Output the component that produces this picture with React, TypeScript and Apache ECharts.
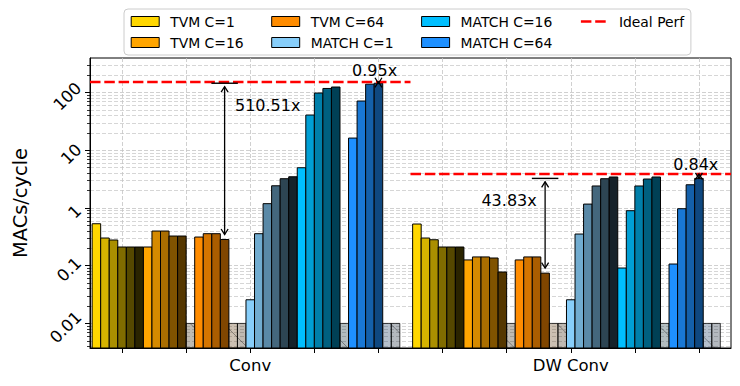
import React, { useEffect, useRef } from 'react';
import * as echarts from 'echarts';

// ---------------- data ----------------
const categories = ['Conv', 'DW Conv'];
const configNames = ['TVM C=1', 'TVM C=16', 'TVM C=64', 'MATCH C=1', 'MATCH C=16', 'MATCH C=64'];
const configColors = ['#FFD700', '#FFA500', '#FF8C00', '#87CEFA', '#00BFFF', '#1E90FF'];

// each: [Conv bars, DW Conv bars]; null = no result (hatched placeholder)
const tvmC1 = [[0.534, 0.302, 0.279, 0.211, 0.211, 0.211], [0.528, 0.302, 0.282, 0.211, 0.211, 0.211]];
const tvmC16 = [[0.211, 0.399, 0.399, 0.327, 0.327, null], [0.126, 0.142, 0.142, 0.136, 0.0778, null]];
const tvmC64 = [[0.314, 0.359, 0.359, 0.2848, null, null], [0.126, 0.142, 0.142, 0.0744, null, null]];
const matchC1 = [[0.0257, 0.359, 1.19, 2.43, 3.22, 3.48], [0.0257, 0.354, 1.17, 2.41, 3.22, 3.45]];
const matchC16 = [[4.99, 40.9, 98.4, 118, 125, null], [0.0912, 0.898, 2.41, 3.18, 3.45, null]];
const matchC64 = [[16.3, 71.5, 140, 145.4, null, null], [0.107, 0.973, 2.53, 3.26, null, null]];
const configValues = [tvmC1, tvmC16, tvmC64, matchC1, matchC16, matchC64];
const placeholderValue = 0.01;

const idealPerf = [153, 3.88];
const speedupLabels = ['510.51x', '0.95x', '43.83x', '0.84x'];
// annotation text anchors in data coordinates [x, y]
const speedupTextPos = [[-0.0476, 59.3], [0.388, 240], [0.8938, 1.365], [1.39, 5.63]];
const speedupTextAlign = ['left', 'center', 'right', 'center'];

const xTickValues = [-0.4, -0.2, 0, 0.2, 0.4, 0.6, 0.8, 1.0, 1.2, 1.4];
const yTickValues = [0.01, 0.1, 1, 10, 100];
const yTickLabels = ['0.01', '0.1', '1', '10', '100'];

// ---------------- layout constants ----------------
const X_MIN = -0.5;
const X_MAX = 1.5;
const Y_MIN = 0.00375;
const Y_MAX = 398;
const BAR_W = 0.96 / 36;
const FONT = "'DejaVu Sans', sans-serif";
const GRID_COLOR = '#c4c4c4';

const yMinorTicks: number[] = [];
for (let e = -3; e <= 2; e++) {
  for (let k = 2; k <= 9; k++) {
    const v = k * Math.pow(10, e);
    if (v > Y_MIN && v < Y_MAX) yMinorTicks.push(v);
  }
}

function barX(g: number, c: number, b: number) {
  return g + (c * 6 + b - 18) * BAR_W;
}

function shade(hex: string, f: number, alpha = 1) {
  const n = parseInt(hex.slice(1), 16);
  const r = Math.round(((n >> 16) & 255) * f);
  const g = Math.round(((n >> 8) & 255) * f);
  const b = Math.round((n & 255) * f);
  return `rgba(${r},${g},${b},${alpha})`;
}

const HATCH = 33.33;

function makeBarRender(ci: number) {
  return (params: any, api: any) => {
    const x = api.value(0);
    const v = api.value(1);
    const sh = api.value(2);
    const ph = api.value(3);
    const cs = params.coordSys;
    const pTop = api.coord([x - BAR_W / 2, v]);
    const pR = api.coord([x + BAR_W / 2, v]);
    const x0 = pTop[0];
    const x1 = pR[0];
    const y0 = pTop[1];
    const y1 = cs.y + cs.height;
    const f = 1 - sh / 6;
    const children: any[] = [
      {
        type: 'rect',
        shape: { x: x0, y: y0, width: x1 - x0, height: y1 - y0 },
        style: {
          fill: ph ? shade(configColors[ci], f, 0.3) : shade(configColors[ci], f),
          stroke: ph ? 'rgba(0,0,0,0.75)' : '#000',
          lineWidth: 1,
        },
      },
    ];
    if (ph) {
      const kmin = Math.ceil((y0 - x1) / HATCH);
      const kmax = Math.floor((y1 - x0) / HATCH);
      for (let k = kmin; k <= kmax; k++) {
        const c = k * HATCH;
        const xs = Math.max(x0, y0 - c);
        const xe = Math.min(x1, y1 - c);
        if (xe > xs) {
          children.push({
            type: 'line',
            shape: { x1: xs, y1: xs + c, x2: xe, y2: xe + c },
            style: { stroke: 'rgba(0,0,0,0.35)', lineWidth: 1 },
          });
        }
      }
    }
    return { type: 'group', children };
  };
}

export default function App() {
  const ref = useRef<HTMLDivElement>(null);
  useEffect(() => {
    document.body.style.margin = '0';
    if (!ref.current) return;
    const chart = echarts.init(ref.current, undefined, { renderer: 'svg' });

    const barSeries = configNames.map((name, ci) => {
      const data: any[] = [];
      for (let g = 0; g < 2; g++) {
        for (let b = 0; b < 6; b++) {
          const v = configValues[ci][g][b];
          data.push(v == null ? [barX(g, ci, b), placeholderValue, b, 1] : [barX(g, ci, b), v, b, 0]);
        }
      }
      return {
        type: 'custom',
        name,
        coordinateSystem: 'cartesian2d',
        itemStyle: { color: configColors[ci] },
        renderItem: makeBarRender(ci),
        data,
        z: 3,
      };
    });

    const arrowData = [
      [barX(0, 2, 3), matchC64[0][3], tvmC64[0][3] as number, 1],
      [barX(0, 5, 3), idealPerf[0], matchC64[0][3], 0],
      [barX(1, 2, 3), matchC64[1][3], tvmC64[1][3] as number, 1],
      [barX(1, 5, 3), idealPerf[1], matchC64[1][3], 0],
    ];

    const arrowSeries = {
      type: 'custom',
      name: 'arrows',
      coordinateSystem: 'cartesian2d',
      z: 6,
      data: arrowData,
      renderItem: (params: any, api: any) => {
        const x = api.value(0);
        const vt = api.value(1);
        const vb = api.value(2);
        const cap = api.value(3);
        const pt = api.coord([x, vt]);
        const pb = api.coord([x, vb]);
        const span = pb[1] - pt[1];
        const tTop = pt[1] + (span > 20 ? 3.4 : 0);
        const tBot = pb[1] - (span > 20 ? 5 : 0);
        const hl = 5.5;
        const hw = 3.5;
        const st = { stroke: '#000', lineWidth: 1.3, fill: 'none' };
        const children: any[] = [];
        if (tBot - tTop > 1) {
          children.push({ type: 'line', shape: { x1: pt[0], y1: tTop, x2: pt[0], y2: tBot }, style: st });
        }
        children.push({ type: 'polyline', shape: { points: [[pt[0] - hw, tTop + hl], [pt[0], tTop], [pt[0] + hw, tTop + hl]] }, style: st });
        children.push({ type: 'polyline', shape: { points: [[pt[0] - hw, tBot - hl], [pt[0], tBot], [pt[0] + hw, tBot - hl]] }, style: st });
        if (cap) {
          const a = api.coord([x - 1.55 * BAR_W, vt]);
          const b = api.coord([x + 1.55 * BAR_W, vt]);
          children.push({ type: 'line', shape: { x1: a[0], y1: a[1], x2: b[0], y2: b[1] }, style: { stroke: '#000', lineWidth: 1.4 } });
        }
        return { type: 'group', children };
      },
    };

    const textSeries = {
      type: 'custom',
      name: 'speedups',
      coordinateSystem: 'cartesian2d',
      z: 7,
      data: speedupTextPos.map((p, i) => [p[0], p[1], i]),
      renderItem: (params: any, api: any) => {
        const i = api.value(2);
        const p = api.coord([api.value(0), api.value(1)]);
        return {
          type: 'text',
          x: p[0],
          y: p[1],
          style: {
            text: speedupLabels[i],
            fill: '#000',
            font: `16px ${FONT}`,
            align: speedupTextAlign[i],
            verticalAlign: 'middle',
            textAlign: speedupTextAlign[i],
            textVerticalAlign: 'middle',
          },
        };
      },
    };

    const idealSeries = {
      type: 'line',
      name: 'Ideal Perf',
      symbol: 'none',
      z: 5,
      connectNulls: false,
      lineStyle: { color: '#ff0000', width: 2.5, type: [10.5, 3.8] },
      itemStyle: { color: '#ff0000' },
      data: [
        [X_MIN, idealPerf[0]],
        [0.5, idealPerf[0]],
        [0.5, '-'],
        [0.5, idealPerf[1]],
        [X_MAX, idealPerf[1]],
      ],
    };

    const legendCol: Record<string, number> = {
      'TVM C=1': 0, 'TVM C=16': 0, 'TVM C=64': 1, 'MATCH C=1': 1,
      'MATCH C=16': 2, 'MATCH C=64': 2, 'Ideal Perf': 3,
    };
    const legendOrder = ['TVM C=1', 'TVM C=64', 'MATCH C=16', 'Ideal Perf', 'TVM C=16', 'MATCH C=1', 'MATCH C=64'];
    const dashIcon = 'path://M0,0h0.01v0.01h-0.01zM27.99,9.99h0.01v0.01h-0.01zM1,3.75h10.5v2.5h-10.5zM15.3,3.75h10.5v2.5h-10.5z';
    const legendData = legendOrder.map((n) => {
      const ci = configNames.indexOf(n);
      if (ci < 0) return { name: n, icon: dashIcon, itemStyle: { color: '#ff0000', borderWidth: 0 } };
      return { name: n, icon: 'rect', itemStyle: { color: configColors[ci], borderColor: '#000', borderWidth: 1 } };
    });
    const legendText = { fontFamily: FONT, fontSize: 13.9, color: '#000', lineHeight: 21 };

    const yLabelPad = [1, 6, 14, 9, 3.4];
    const yRich: Record<string, any> = {};
    yLabelPad.forEach((p, i) => {
      yRich['t' + i] = { fontFamily: FONT, fontSize: 16.5, color: '#000', padding: [p + 5.6, 5.6, 0, p] };
    });

    const option: any = {
      animation: false,
      grid: {
        left: 90, right: 9, top: 58, bottom: 38,
        show: true, borderColor: '#000', borderWidth: 1,
        containLabel: false, outerBoundsMode: 'none',
      },
      legend: {
        left: 124, top: 9, width: 575,
        orient: 'horizontal',
        itemWidth: 28, itemHeight: 10, itemGap: 0,
        padding: [2, 6, 2, 6.7],
        borderColor: '#cccccc', borderWidth: 1, borderRadius: 4,
        backgroundColor: 'rgba(255,255,255,0.8)',
        data: legendData,
        selectedMode: false,
        formatter: (name: string) => `{c${legendCol[name]}|${name}}`,
        textStyle: {
          ...legendText,
          rich: {
            c0: { ...legendText, width: 101, padding: [0, 0, 0, 6] },
            c1: { ...legendText, width: 110.4, padding: [0, 0, 0, 6] },
            c2: { ...legendText, width: 119.3, padding: [0, 0, 0, 6] },
            c3: { ...legendText, width: 66, padding: [0, 0, 0, 6] },
          },
        },
      },
      xAxis: {
        type: 'value', min: X_MIN, max: X_MAX,
        axisLine: { show: true, onZero: false, lineStyle: { color: '#000', width: 1 } },
        axisTick: { show: true, customValues: xTickValues, length: 5, lineStyle: { color: '#000', width: 1 } },
        axisLabel: {
          customValues: [0, 1],
          formatter: (v: number) => categories[Math.round(v)] ?? '',
          fontFamily: FONT, fontSize: 16.5, color: '#000', margin: 9,
        },
        splitLine: { show: true, lineStyle: { color: GRID_COLOR, width: 0.8, type: [4, 2] } },
      },
      yAxis: [
        {
          type: 'log', logBase: 10, min: Y_MIN, max: Y_MAX,
          name: 'MACs/cycle', nameLocation: 'middle', nameGap: 60, nameRotate: 90,
          nameTextStyle: { fontFamily: FONT, fontSize: 19.4, color: '#000' },
          axisLine: { show: true, onZero: false, lineStyle: { color: '#000', width: 1 } },
          axisTick: { show: true, customValues: yTickValues, length: 5, lineStyle: { color: '#000', width: 1 } },
          axisLabel: {
            customValues: yTickValues,
            rotate: 45, align: 'center', verticalAlign: 'middle', margin: 25,
            fontFamily: FONT, fontSize: 16.5, color: '#000',
            formatter: (v: number) => {
              const i = yTickValues.findIndex((t) => Math.abs(Math.log10(t) - Math.log10(v)) < 1e-6);
              return i < 0 ? '' : `{t${i}|${yTickLabels[i]}}`;
            },
            rich: yRich,
          },
          splitLine: { show: true, lineStyle: { color: GRID_COLOR, width: 0.8, type: [4, 2] } },
        },
        {
          type: 'log', logBase: 10, min: Y_MIN, max: Y_MAX, position: 'left',
          axisLine: { show: false, onZero: false },
          axisTick: { show: true, customValues: yMinorTicks, length: 3, lineStyle: { color: '#000', width: 0.8 } },
          axisLabel: { show: false, customValues: yMinorTicks },
          splitLine: { show: true, lineStyle: { color: GRID_COLOR, width: 0.7, type: [4, 2] } },
        },
      ],
      series: [...barSeries, idealSeries, arrowSeries, textSeries],
    };

    chart.setOption(option);
    return () => chart.dispose();
  }, []);
  return <div ref={ref} style={{ width: 740, height: 386 }} />;
}
